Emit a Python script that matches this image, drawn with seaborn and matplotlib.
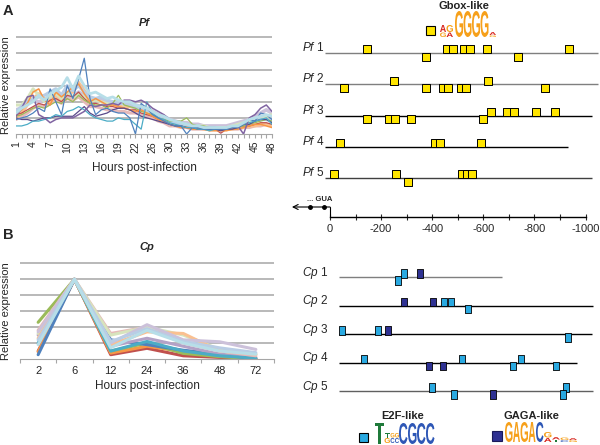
import pandas as pd
import seaborn as sns
import matplotlib.pyplot as plt
from matplotlib.textpath import TextPath
from matplotlib.patches import PathPatch, Rectangle
from matplotlib.font_manager import FontProperties
from matplotlib.transforms import Affine2D
from matplotlib.ticker import FuncFormatter

# ---- data: Pf expression profiles (relative expression; hours 23 and 29 not sampled) ----
pf_hours = list(range(1, 23)) + [24, 25, 26, 27, 28] + list(range(30, 49))
pf_lavender = [1.5, 1.6, 1.9, 2.1, 2.0, 2.1, 2.2, 2.3, 2.1, 2.4, 2.3, 2.6, 2.4, 2.2, 2.1, 2.2, 2.0, 2.0, 2.0, 1.9, 1.9, 1.8,
               1.7, 1.6, 1.4, 1.2, 1.1,
               0.9, 0.8, 0.7, 0.7, 0.6, 0.6, 0.5, 0.5, 0.5, 0.5, 0.5, 0.6, 0.7, 0.8, 0.9, 1.1, 1.3, 1.5, 1.3]
pf_pink = [0.9, 1.1, 1.3, 1.6, 1.8, 1.7, 1.9, 2.1, 1.9, 2.2, 2.1, 2.3, 2.0, 1.7, 1.7, 1.6, 1.5, 1.5, 1.4, 1.4, 1.3, 1.3,
           1.2, 1.1, 1.0, 0.8, 0.7,
           0.5, 0.5, 0.4, 0.4, 0.3, 0.3, 0.3, 0.3, 0.3, 0.3, 0.3, 0.3, 0.3, 0.4, 0.4, 0.5, 0.5, 0.6, 0.5]
pf_paleorange = [1.0, 1.3, 1.8, 2.2, 2.5, 2.2, 2.0, 2.3, 2.1, 2.5, 2.6, 3.2, 2.7, 2.2, 2.1, 2.0, 1.9, 1.8, 1.8, 1.7, 1.7, 1.6,
                 1.5, 1.4, 1.2, 1.0, 0.9,
                 0.7, 0.6, 0.5, 0.5, 0.4, 0.4, 0.3, 0.3, 0.3, 0.3, 0.3, 0.3, 0.4, 0.4, 0.5, 0.5, 0.6, 0.6, 0.5]
pf_palegreen = [1.8, 1.8, 2.2, 2.8, 2.4, 2.0, 2.3, 2.5, 2.2, 2.6, 2.3, 2.5, 2.3, 2.0, 2.1, 2.0, 1.9, 2.0, 2.1, 1.8, 1.9, 1.7,
                1.5, 1.4, 1.2, 1.1, 1.0,
                0.8, 0.7, 0.6, 0.6, 0.5, 0.5, 0.5, 0.4, 0.4, 0.4, 0.4, 0.5, 0.6, 0.7, 0.8, 0.9, 1.0, 1.1, 1.2]
pf_paleblue = [1.4, 1.7, 2.0, 2.2, 2.3, 2.4, 2.6, 2.8, 2.4, 3.0, 2.7, 3.0, 2.6, 2.3, 2.2, 2.3, 2.1, 2.0, 1.9, 1.9, 1.8, 1.6,
               1.6, 1.5, 1.3, 1.1, 1.0,
               0.8, 0.7, 0.6, 0.6, 0.5, 0.5, 0.4, 0.4, 0.4, 0.3, 0.3, 0.4, 0.4, 0.5, 0.6, 0.8, 0.9, 0.9, 0.8]
pf_red = [1.2, 1.3, 1.5, 1.7, 1.9, 1.8, 2.1, 2.2, 2.0, 2.4, 2.3, 2.6, 2.2, 1.9, 1.9, 1.8, 1.7, 1.7, 1.6, 1.6, 1.5, 1.5,
          1.3, 1.2, 1.1, 0.9, 0.8,
          0.6, 0.5, 0.5, 0.4, 0.4, 0.3, 0.3, 0.3, 0.3, 0.05, 0.3, 0.3, 0.4, 0.5, 0.5, 0.6, 0.7, 0.7, 0.6]
pf_green = [1.1, 1.2, 1.4, 1.6, 1.7, 1.6, 1.8, 2.0, 1.9, 2.2, 2.0, 2.4, 2.1, 1.9, 1.8, 1.8, 1.6, 1.9, 2.4, 1.8, 1.7, 1.6,
            1.4, 1.3, 1.2, 1.0, 0.9,
            0.8, 0.8, 0.8, 1.0, 0.6, 0.5, 0.5, 0.4, 0.4, 0.4, 0.3, 0.3, 0.4, 0.5, 0.6, 0.7, 0.8, 0.9, 0.8]
pf_orange = [1.2, 1.5, 1.9, 2.6, 2.8, 2.1, 1.8, 2.6, 2.3, 2.6, 2.9, 3.1, 2.5, 2.0, 2.2, 2.0, 1.8, 1.8, 1.7, 1.6, 1.5, 1.4,
             1.5, 1.3, 1.1, 0.9, 0.8,
             0.6, 0.5, 0.4, 0.4, 0.3, 0.3, 0.3, 0.2, 0.2, 0.2, 0.2, 0.3, 0.3, 0.4, 0.5, 0.6, 0.6, 0.5, 0.4]
pf_navy = [1.0, 0.9, 0.9, 0.8, 0.9, 1.0, 1.0, 1.1, 1.1, 1.1, 1.1, 1.4, 1.7, 1.3, 1.1, 1.2, 1.3, 1.5, 1.6, 1.6, 1.5, 1.3,
           1.1, 1.0, 0.9, 0.8, 0.7,
           0.6, 0.5, 0.5, 0.4, 0.4, 0.3, 0.3, 0.3, 0.3, 0.2, 0.3, 0.3, 0.4, 0.6, 0.6, 0.8, 0.9, 0.9, 0.7]
pf_aqua = [0.5, 0.5, 0.6, 0.8, 0.8, 0.9, 1.0, 1.2, 1.1, 1.4, 1.5, 1.7, 1.5, 1.2, 1.0, 0.9, 0.8, 0.8, 1.0, 0.9, 0.9, 0.6,
           0.3, 2.0, 1.3, 1.0, 0.9,
           0.7, 0.6, 0.5, 0.4, 0.4, 0.3, 0.3, 0.2, 0.3, 0.3, 0.3, 0.4, 0.5, 0.6, 0.7, 0.8, 0.9, 1.0, 0.6]
pf_purple = [1.1, 1.6, 2.3, 2.4, 1.2, 1.0, 0.7, 0.9, 1.0, 1.0, 1.0, 1.2, 1.4, 1.8, 1.7, 1.8, 1.8, 1.9, 1.8, 2.1, 2.1, 2.0,
             2.1, 1.9, 1.6, 1.4, 1.2,
             0.9, 0.8, 0.7, 0.6, 0.5, 0.5, 0.4, 0.4, 0.4, 0.3, 0.4, 0.4, 0.5, 0.0, 1.0, 1.2, 1.6, 1.8, 1.4]
pf_blue = [0.9, 1.0, 1.1, 1.3, 1.6, 1.4, 2.8, 2.0, 1.2, 3.0, 2.2, 3.4, 4.7, 2.2, 1.2, 1.5, 1.6, 1.4, 1.3, 1.3, 1.0, 0.0,
           1.9, 1.6, 1.2, 1.0, 0.8,
           0.6, 0.5, 0.5, 0.0, 0.4, 0.4, 0.3, 0.3, 0.3, 0.3, 0.3, 0.4, 0.4, 0.6, 0.9, 0.8, 1.3, 1.2, 0.9]
pf_lightaqua = [1.3, 1.6, 1.8, 2.0, 2.4, 2.1, 2.5, 2.7, 2.9, 3.5, 2.8, 3.6, 3.0, 2.5, 2.6, 2.4, 2.2, 2.3, 2.1, 2.0, 2.0, 1.8,
                1.7, 1.6, 1.4, 1.2, 1.1,
                0.9, 0.8, 0.7, 0.6, 0.5, 0.5, 0.4, 0.4, 0.4, 0.4, 0.4, 0.5, 0.5, 0.7, 0.9, 1.0, 1.1, 1.2, 1.1]

# ---- data: Cp expression profiles ----
cp_hours = ["2", "6", "12", "24", "36", "48", "72"]
cp_blue = [0.27, 5, 1.2, 0.9, 0.55, 0.3, 0.0]
cp_red = [0.5, 5, 0.27, 0.67, 0.2, 0.1, 0.0]
cp_orange = [0.45, 5, 0.37, 0.8, 0.47, 0.2, 0.05]
cp_green = [2.3, 5, 0.5, 1.0, 0.35, 0.15, 0.0]
cp_purple = [1.5, 5, 0.8, 1.3, 0.8, 0.3, 0.1]
cp_aqua = [1.0, 5, 0.5, 1.1, 0.5, 0.2, 0.05]
cp_pink = [1.8, 5, 1.6, 2.0, 1.0, 0.5, 0.2]
cp_palegreen = [1.6, 5, 1.5, 2.0, 1.5, 0.6, 0.3]
cp_paleorange = [1.3, 5, 0.9, 1.7, 1.6, 0.5, 0.3]
cp_lavender = [1.7, 5, 1.0, 2.15, 1.2, 1.08, 0.6]
cp_paleblue = [1.2, 5, 1.1, 1.9, 1.1, 0.7, 0.4]
cp_lightaqua = [0.9, 5, 0.7, 1.8, 1.0, 0.5, 0.3]

# ---- data: motif positions (bp upstream of start) ----
pf_names = ["Pf 1", "Pf 2", "Pf 3", "Pf 4", "Pf 5"]
pf_lengths = [1049, 1049, 1025, 931, 1025]
pf_gbox_up = [[145, 458, 481, 524, 548, 614, 935], [250, 618], [630, 693, 720, 806, 881], [39, 411, 431, 591], [16, 258, 517, 536, 556]]
pf_gbox_down = [[376, 736], [55, 376, 442, 462, 512, 532, 841], [145, 231, 254, 317, 599], [], [305]]

cp_names = ["Cp 1", "Cp 2", "Cp 3", "Cp 4", "Cp 5"]
cp_lengths = [638, 994, 990, 931, 994]
cp_e2f_up = [[254], [411, 438], [12, 153], [98, 481, 712], [364, 888]]
cp_e2f_down = [[231], [505], [896], [681, 849], [450, 877]]
cp_gaga_up = [[317], [254, 368], [192], [], []]
cp_gaga_down = [[], [], [], [352, 407], [603]]

# ---- style ----
sns.set_style("white")
plt.rcParams['font.family'] = ['Liberation Sans', 'DejaVu Sans']
plt.rcParams['mathtext.fontset'] = 'custom'
plt.rcParams['mathtext.it'] = 'Liberation Sans:italic'
plt.rcParams['mathtext.rm'] = 'Liberation Sans'

W, H = 600, 445
fig = plt.figure(figsize=(6, 4.45), dpi=100)
GRID = '#A6A6A6'


def px_axes(x0, y0, x1, y1):
    return fig.add_axes([x0 / W, 1 - y1 / H, (x1 - x0) / W, (y1 - y0) / H])


# overlay in pixel coordinates for panel letters, y labels and motif legends
ov = fig.add_axes([0, 0, 1, 1])
ov.set_xlim(0, W)
ov.set_ylim(H, 0)
ov.axis('off')

# ---------------- Pf line chart ----------------
pf_series = {'lavender': pf_lavender, 'pink': pf_pink, 'paleorange': pf_paleorange, 'palegreen': pf_palegreen,
             'paleblue': pf_paleblue, 'red': pf_red, 'green': pf_green, 'orange': pf_orange, 'navy': pf_navy,
             'aqua': pf_aqua, 'purple': pf_purple, 'blue': pf_blue, 'lightaqua': pf_lightaqua}
pf_colors = {'lavender': '#CCC1DA', 'pink': '#E6B9B8', 'paleorange': '#FAC090', 'palegreen': '#D7E4BD',
             'paleblue': '#B9CDE5', 'red': '#C0504D', 'green': '#9BBB59', 'orange': '#F79646', 'navy': '#5A4A8A',
             'aqua': '#4BACC6', 'purple': '#8064A2', 'blue': '#4F81BD', 'lightaqua': '#B7DEE8'}
pf_widths = {'lavender': 2.6, 'pink': 2.2, 'paleorange': 2.2, 'palegreen': 2.2, 'paleblue': 2.4, 'red': 0.9,
             'green': 0.9, 'orange': 1.1, 'navy': 0.9, 'aqua': 0.9, 'purple': 1.1, 'blue': 0.9, 'lightaqua': 2.0}
df_pf = pd.DataFrame([(k, i, v) for k, vals in pf_series.items() for i, v in enumerate(vals)],
                     columns=['series', 'idx', 'expr'])

ax1 = px_axes(16, 36, 272, 134)
sns.lineplot(data=df_pf, x='idx', y='expr', hue='series', hue_order=list(pf_series), palette=pf_colors,
             legend=False, errorbar=None, ax=ax1)
for line, name in zip(ax1.lines, pf_series):
    line.set_linewidth(pf_widths[name])
ax1.set_xlim(0, len(pf_hours) - 1)
ax1.set_ylim(0, 6.08)
ax1.set_yticks(range(1, 7))
ax1.set_yticklabels([])
ax1.yaxis.grid(True, color=GRID, lw=1.1)
ax1.set_axisbelow(True)
major = list(range(0, len(pf_hours), 3))
ax1.set_xticks(major)
ax1.set_xticklabels([str(pf_hours[i]) for i in major])
ax1.set_xticks(range(len(pf_hours)), minor=True)
ax1.tick_params(axis='x', which='both', bottom=True, direction='out', length=3, color=GRID, width=0.8)
ax1.tick_params(axis='x', labelsize=7.5, rotation=90, pad=2)
ax1.tick_params(axis='y', length=0)
for s in ['top', 'right', 'left']:
    ax1.spines[s].set_visible(False)
ax1.spines['bottom'].set_color(GRID)
ax1.set_xlabel('Hours post-infection', fontsize=8.5, labelpad=7)
ax1.set_ylabel('')
ax1.set_title('Pf', fontsize=8, fontweight='bold', fontstyle='italic', pad=7)

# ---------------- Cp line chart ----------------
cp_series = {'red': cp_red, 'orange': cp_orange, 'green': cp_green, 'blue': cp_blue, 'purple': cp_purple,
             'aqua': cp_aqua, 'pink': cp_pink, 'palegreen': cp_palegreen, 'paleorange': cp_paleorange,
             'lavender': cp_lavender, 'paleblue': cp_paleblue, 'lightaqua': cp_lightaqua}
cp_colors = {'red': '#C0504D', 'orange': '#F79646', 'green': '#9BBB59', 'blue': '#4F81BD', 'purple': '#B3A2C7',
             'aqua': '#4BACC6', 'pink': '#E6B9B8', 'palegreen': '#D7E4BD', 'paleorange': '#FAC090',
             'lavender': '#CCC1DA', 'paleblue': '#B9CDE5', 'lightaqua': '#B7DEE8'}
df_cp = pd.DataFrame([(k, i, v) for k, vals in cp_series.items() for i, v in enumerate(vals)],
                     columns=['series', 'idx', 'expr'])

ax2 = px_axes(20, 262, 274, 359)
sns.lineplot(data=df_cp, x='idx', y='expr', hue='series', hue_order=list(cp_series), palette=cp_colors,
             legend=False, errorbar=None, ax=ax2, linewidth=2.2)
ax2.set_xlim(-0.5, len(cp_hours) - 0.5)
ax2.set_ylim(0, 6.08)
ax2.set_yticks(range(1, 7))
ax2.set_yticklabels([])
ax2.yaxis.grid(True, color=GRID, lw=1.1)
ax2.set_axisbelow(True)
ax2.set_xticks(range(len(cp_hours)))
ax2.set_xticklabels(cp_hours)
ax2.set_xticks([i - 0.5 for i in range(len(cp_hours) + 1)], minor=True)
ax2.tick_params(axis='x', which='major', length=0, labelsize=8, pad=5)
ax2.tick_params(axis='x', which='minor', bottom=True, direction='out', length=3, color=GRID, width=0.8)
ax2.tick_params(axis='y', length=0)
for s in ['top', 'right', 'left']:
    ax2.spines[s].set_visible(False)
ax2.spines['bottom'].set_color(GRID)
ax2.set_xlabel('Hours post-infection', fontsize=8.5, labelpad=3)
ax2.set_ylabel('')
ax2.set_title('Cp', fontsize=8, fontweight='bold', fontstyle='italic', pad=9)

ov.text(6, 85, 'Relative expression', fontsize=8, rotation=90, ha='center', va='center')
ov.text(6, 311, 'Relative expression', fontsize=8, rotation=90, ha='center', va='center')

# ---------------- motif tracks ----------------
BP_PX = 0.2555  # pixels per bp


def motif_frame(names, up, down, motif, off):
    rows = []
    for i, name in enumerate(names):
        rows += [(name, p, i + 1 - off, motif) for p in up[i]]
        rows += [(name, p, i + 1 + off, motif) for p in down[i]]
    return pd.DataFrame(rows, columns=['gene', 'pos', 'y', 'motif'])


# Pf tracks: 0 bp at x=330 px, rows 31.25 px apart
axp = px_axes(288, 37, 600, 217)
axp.set_xlim((288 - 330) / BP_PX, (600 - 330) / BP_PX)
axp.set_ylim(1 + (217 - 53) / 31.25, 1 - (53 - 37) / 31.25)
track_cols = ['#7F7F7F', '#7F7F7F', 'black', 'black', '#404040']
for i, name in enumerate(pf_names):
    axp.hlines(i + 1, -18, pf_lengths[i], color=track_cols[i], lw=1.0, zorder=1)
    axp.text(-110, i + 1 - 0.06, r'$\mathit{Pf}$' + name[2:], fontsize=8.5, ha='left', va='baseline')
df_g = motif_frame(pf_names, pf_gbox_up, pf_gbox_down, 'Gbox', 3.6 / 31.25)
sns.scatterplot(data=df_g, x='pos', y='y', marker='s', s=28, color='#FFE500', edgecolor='black',
                linewidth=0.7, ax=axp, zorder=3, legend=False)
for s in ['top', 'right', 'left']:
    axp.spines[s].set_visible(False)
axp.spines['bottom'].set_bounds(0, 1000)
axp.spines['bottom'].set_color('black')
axp.spines['bottom'].set_linewidth(1.0)
axp.set_xticks(range(0, 1001, 100))
axp.xaxis.set_major_formatter(FuncFormatter(lambda v, p: '' if int(v) % 200 else ('0' if v == 0 else f'-{v:.0f}')))
axp.tick_params(axis='x', bottom=True, direction='inout', length=4, width=0.8, labelsize=8, pad=3)
axp.set_yticks([])
axp.set_xlabel('')
axp.set_ylabel('')
# transcript start marker
gy = 1 + (207 - 53) / 31.25
axp.annotate('', xy=(-149, gy), xytext=(0, gy), arrowprops=dict(arrowstyle='->', color='black', lw=0.8,
                                                                  mutation_scale=9, shrinkA=0, shrinkB=0))
axp.plot([0, 0], [gy, axp.get_ylim()[0]], color='black', lw=0.8, clip_on=False)
axp.plot([-78, -24], [gy, gy], 'o', color='black', ms=2.5, clip_on=False)
axp.text(-42, gy - 0.12, '... GUA', fontsize=5.5, fontweight='bold', ha='center', va='bottom')

# Cp tracks: 0 at x=339 px, rows 28.5 px apart
axc = px_axes(296, 262, 600, 400)
axc.set_xlim((296 - 339) / BP_PX, (600 - 339) / BP_PX)
axc.set_ylim(1 + (400 - 277) / 28.5, 1 - (277 - 262) / 28.5)
cp_track_cols = ['#7F7F7F', 'black', 'black', 'black', '#606060']
for i, name in enumerate(cp_names):
    axc.hlines(i + 1, 0, cp_lengths[i], color=cp_track_cols[i], lw=1.0, zorder=1)
    axc.text(-145, i + 1 - 0.05, r'$\mathit{Cp}$' + name[2:], fontsize=8.5, ha='left', va='baseline')
cp_off = 3.4 / 28.5
df_cpm = pd.concat([motif_frame(cp_names, cp_e2f_up, cp_e2f_down, 'E2F', cp_off),
                    motif_frame(cp_names, cp_gaga_up, cp_gaga_down, 'GAGA', cp_off)])
rect = [(-0.38, -0.5), (0.38, -0.5), (0.38, 0.5), (-0.38, 0.5), (-0.38, -0.5)]
sns.scatterplot(data=df_cpm, x='pos', y='y', hue='motif', palette={'E2F': '#29A9E1', 'GAGA': '#2E3192'},
                marker=rect, s=36, edgecolor='black', linewidth=0.6, ax=axc, zorder=3, legend=False)
axc.axis('off')

# ---------------- panel letters & motif legends ----------------
ov.text(3, 4, 'A', fontsize=10.5, fontweight='bold', va='top')
ov.text(3, 228, 'B', fontsize=10.5, fontweight='bold', va='top')
ov.text(464, 6, 'Gbox-like', fontsize=8, fontweight='bold', ha='center', va='center', color='#222222')
ov.text(403, 416, 'E2F-like', fontsize=8, fontweight='bold', ha='center', va='center', color='#222222')
ov.text(531, 416, 'GAGA-like', fontsize=8, fontweight='bold', ha='center', va='center', color='#222222')
ov.add_patch(Rectangle((425.5, 26), 9, 9, facecolor='#FFE500', edgecolor='black', lw=0.8))
ov.add_patch(Rectangle((359, 433), 9, 9, facecolor='#29A9E1', edgecolor='black', lw=0.8))
ov.add_patch(Rectangle((492, 431), 9.5, 9.5, facecolor='#2E3192', edgecolor='#1a1a5a', lw=0.8))

LOGO_FONT = FontProperties(family='Liberation Sans', weight='bold')
RED, ORG, BLU, GRN = '#D7261E', '#F6A01A', '#2E57B6', '#1F7A3A'


def letter(ch, x0, x1, ytop, ybot, color):
    tp = TextPath((0, 0), ch, size=1, prop=LOGO_FONT)
    bb = tp.get_extents()
    tr = (Affine2D().translate(-bb.x0, -bb.y0)
          .scale((x1 - x0) / bb.width, -(ybot - ytop) / bb.height).translate(x0, ybot))
    ov.add_patch(PathPatch(tr.transform_path(tp), facecolor=color, lw=0))


gbox_logo = [('A', 440, 446, 25, 32, RED), ('G', 440, 446, 32.5, 37, ORG), ('G', 446.5, 453, 25, 32, ORG),
             ('A', 446.5, 453, 32.5, 37, RED), ('G', 455, 463, 11, 37, ORG), ('G', 463.5, 471.5, 11, 37, ORG),
             ('G', 472, 480, 11, 37, ORG), ('G', 480.5, 488.5, 11, 37, ORG), ('A', 489.5, 496, 32, 35, RED),
             ('G', 489.5, 496, 35.3, 37, ORG)]
e2f_logo = [('T', 375, 384, 423, 444, GRN), ('T', 384.5, 390, 433, 437.5, GRN), ('G', 384.5, 390, 438, 443, ORG),
            ('G', 390.5, 394.5, 433, 437.5, ORG), ('C', 390.5, 394.5, 438, 443, BLU),
            ('G', 395, 399, 433, 437.5, ORG), ('C', 395, 399, 438, 443, BLU),
            ('C', 399, 407.5, 423, 444, BLU), ('G', 408, 416.5, 423, 444, BLU), ('C', 417, 425.5, 423, 444, BLU),
            ('C', 426, 434.5, 423, 444, BLU)]
gaga_logo = [('G', 505, 512.5, 422, 442, ORG), ('A', 513, 520, 422, 442, ORG), ('G', 520.5, 528, 422, 442, ORG),
             ('A', 528.5, 535.5, 422, 442, ORG), ('C', 536, 543.5, 422, 442, BLU), ('G', 544, 551.5, 432, 437.5, ORG),
             ('A', 544, 551.5, 438, 442, RED), ('A', 552, 560, 437, 439.5, RED), ('T', 552, 560, 439.8, 442, GRN),
             ('G', 560.5, 568.5, 437.5, 440, ORG), ('C', 560.5, 568.5, 440.2, 442, BLU),
             ('A', 569, 577, 438, 440, RED), ('G', 569, 577, 440.2, 442, ORG)]
for spec in gbox_logo + e2f_logo + gaga_logo:
    letter(*spec)

fig.savefig('out.png', dpi=100)
